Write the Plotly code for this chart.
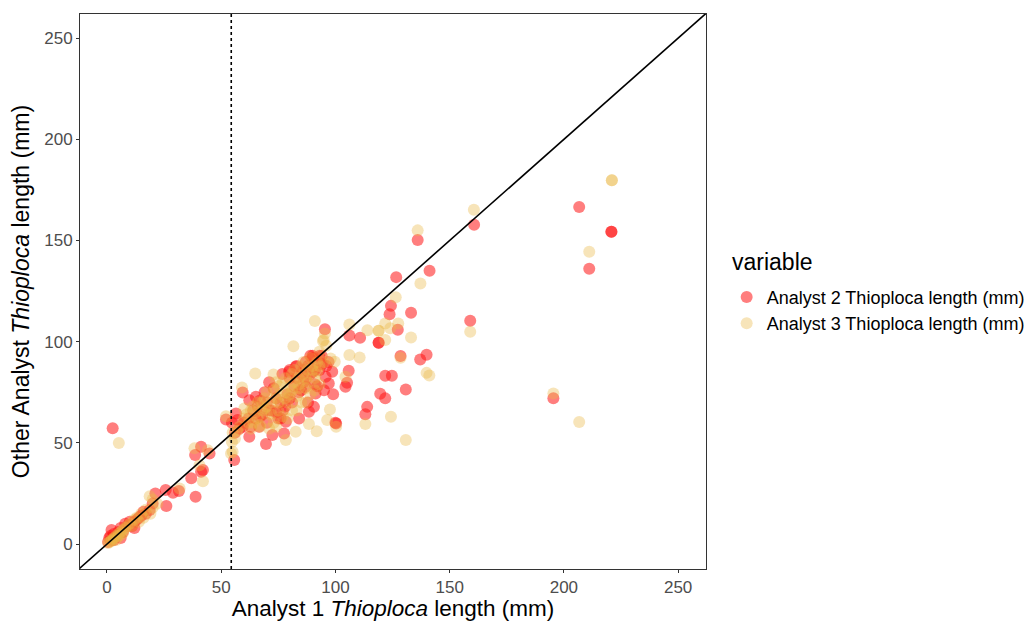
import plotly.graph_objects as go

# Analyst 2 (red) vs Analyst 1
a2_x = [220.8, 220.8, 206.7, 211.1, 160.7, 159.0, 195.4,
        136.0, 126.6, 141.2, 124.3, 123.7, 133.1, 127.3, 118.9, 118.9, 128.5, 137.1, 139.9,
        121.8, 124.7, 119.6, 121.8, 130.8, 113.9, 113.1, 100.3, 110.8, 106.1, 95.4, 105.8,
        105.1, 104.4, 2.5,
        82.6, 79.7, 76.8, 87.0, 91.3, 95.7, 97.1, 98.6, 90.6, 88.4, 84.1, 78.3, 77.5, 69.6,
        72.4, 65.2, 62.3, 59.4, 56.5, 55.7, 57.2, 59.4, 66.6, 62.3, 52.1, 54.7,
        70, 72, 74, 75, 68, 66, 80, 82, 85, 88, 90, 92, 94, 86, 84, 78, 76, 73, 71, 69,
        64, 62, 60, 58, 56, 67, 80, 89, 93, 91, 96, 95, 99, 100, 80, 83, 90, 89, 93, 87,
        63, 65, 67, 70, 74, 77, 79, 81, 83, 86, 87, 91, 94, 97, 71, 76, 85, 88, 90, 92,
        41.2, 38.6, 44.9, 41.2, 42.0, 36.9, 38.8, 21.2, 25.7, 31.5, 28.9, 26.0, 18.7, 17,
        15, 13, 10, 8, 6, 5, 3, 2, 1, 2, 4, 7, 9, 11, 12, 3, 0.5, 1.5, 20, 16, 14, 12, 6]
a2_y = [154.3, 154.3, 166.5, 136.0, 157.8, 110.3, 72.1,
        150.2, 131.9, 135.1, 117.7, 113.6, 114.3, 105.9, 99.5, 99.5, 92.9, 91.2, 93.5,
        83.2, 83.2, 74.3, 72.0, 76.4, 67.8, 64.1, 59.6, 101.9, 103.1, 106.2, 85.6,
        79.7, 77.7, 57.2,
        87.6, 85.1, 84.0, 77.7, 74.4, 82.7, 79.4, 85.1, 67.8, 65.4, 62.1, 60.4, 54.7, 49.4,
        53.9, 72.8, 71.1, 74.9, 64.5, 41.5, 61.3, 58.0, 58.0, 53.0, 61.6, 59.9,
        70, 66, 72, 62, 64, 68, 72, 78, 84, 88, 92, 90, 93, 80, 75, 68, 70, 77, 80, 75,
        66, 62, 60, 57, 55, 71, 82, 84, 86, 79, 88, 76, 74, 60, 86, 88, 93, 93, 93, 82,
        58, 62, 63, 60, 65, 66, 74, 70, 82, 86, 90, 86, 89, 90, 66, 62, 76, 70, 85, 78,
        48.1, 44.0, 44.8, 35.7, 36.6, 32.5, 23.4, 25.0, 26.7, 26.2, 25.4, 18.8, 16.8, 15,
        14, 12, 11, 10, 8, 6, 5, 7, 3, 2, 4, 6, 9, 9, 11, 2, 1, 4, 20, 16, 13, 8, 3]

# Analyst 3 (gold) vs Analyst 1
a3_x = [221.0, 221.0, 160.6, 211.1, 159.0, 195.4, 206.7, 136.0, 137.2, 126.4, 121.8, 127.5,
        124.0, 118.9, 118.9, 121.8, 133.1, 128.5, 139.9, 141.1, 124.3, 130.8, 113.1, 100.3,
        97.6, 96.4, 91.8, 88.4, 91.0, 95.4, 94.5, 106.1, 114.0, 106.1, 110.6, 104.4, 81.6,
        64.9, 72.9, 59.1, 60.1, 52.1, 54.7, 55.0, 78.3, 5.2, 82.6, 94.9, 97.9, 99.7, 54.3,
        62, 65, 68, 70, 72, 74, 76, 78, 80, 82, 84, 86, 88, 90, 92, 66, 70, 75, 79, 83, 87,
        91, 73, 77, 81, 85, 89, 93, 58, 60, 63, 67, 71, 69, 73, 77, 81, 85, 89, 93, 96, 57,
        55, 56, 64, 68, 75, 80, 84, 88, 92, 95,
        61, 63, 66, 69, 72, 75, 78, 81, 84, 87, 90, 93, 70, 74, 78, 82, 86, 64, 67, 74, 79,
        83, 87, 91,
        38.3, 44.1, 40.5, 42.0, 18.7, 31.8, 20, 17, 15, 13, 12, 10, 9, 8, 7, 6, 5, 4, 3, 2,
        1, 0.5, 2, 3, 5, 7, 4, 6, 11, 14, 16, 19, 20, 22]
a3_y = [179.8, 179.8, 165.2, 144.4, 104.9, 74.4, 60.3, 155.0, 128.8, 122.0, 109.0, 109.0,
        106.6, 105.4, 105.4, 100.8, 102.1, 92.1, 84.6, 83.3, 62.9, 51.4, 59.3, 58.0,
        66.5, 61.3, 55.8, 59.3, 110.2, 104.1, 100.3, 108.5, 105.7, 93.4, 92.2, 82.7, 97.8,
        84.3, 83.8, 77.4, 67.0, 63.2, 50.5, 45.6, 51.4, 49.9, 55.5, 100.8, 91.7, 90.1, 44.8,
        60, 65, 66, 68, 70, 72, 74, 75, 78, 80, 82, 84, 86, 88, 90, 62, 64, 66, 70, 73, 77,
        82, 60, 63, 66, 70, 74, 79, 58, 62, 57, 59, 57, 72, 76, 80, 84, 88, 92, 95, 98, 56,
        55, 52, 68, 70, 78, 74, 77, 80, 85, 90,
        64, 66, 70, 67, 64, 70, 72, 76, 79, 82, 86, 88, 75, 80, 82, 86, 90, 60, 58, 58, 62,
        66, 70, 76,
        47.3, 46.4, 39.0, 31.1, 23.7, 27.5, 18, 17, 15, 13, 12, 10, 9, 8, 7, 6, 5, 4, 3, 2,
        1, 0.5, 1.5, 2.5, 4, 5.5, 2, 4.5, 9, 11, 13, 15, 22, 20]

x_ticks = [0, 50, 100, 150, 200, 250]
y_ticks = [0, 50, 100, 150, 200, 250]
median_line = 54.4
x_range = [-11.8, 262.2]
y_range = [-12.3, 261.9]

FONT = "Liberation Sans, Arial, sans-serif"

fig = go.Figure()

fig.add_trace(go.Scatter(
    x=a2_x, y=a2_y, mode="markers", name="Analyst 2 Thioploca length (mm)",
    marker=dict(size=12, color="rgba(255,20,20,0.55)", line=dict(width=0))))
fig.add_trace(go.Scatter(
    x=a3_x, y=a3_y, mode="markers", name="Analyst 3 Thioploca length (mm)",
    marker=dict(size=12, color="rgba(234,184,70,0.38)", line=dict(width=0))))

fig.add_trace(go.Scatter(
    x=[-30, 300], y=[-30, 300], mode="lines", showlegend=False, hoverinfo="skip",
    line=dict(color="black", width=1.6)))

fig.add_shape(type="line", xref="x", yref="paper", x0=median_line, x1=median_line,
              y0=0, y1=1, line=dict(color="black", width=1.6, dash="dot"))

fig.add_annotation(text="variable", xref="paper", yref="paper", x=1.038, y=0.553,
                   xanchor="left", yanchor="middle", showarrow=False,
                   font=dict(family=FONT, size=23, color="black"))

axis_common = dict(
    showgrid=False, zeroline=False, showline=True, linecolor="#333333", linewidth=1,
    mirror=True, ticks="outside", ticklen=3, tickcolor="#333333", tickwidth=1,
    automargin=False,
    tickfont=dict(family=FONT, size=17, color="#4D4D4D"),
)

fig.update_layout(
    width=1028, height=613,
    margin=dict(l=72, r=325, t=6, b=52),
    plot_bgcolor="white", paper_bgcolor="white",
    font=dict(family=FONT, color="black"),
    xaxis=dict(range=x_range, tickvals=x_ticks, **axis_common,
               title=dict(text="Analyst 1 <i>Thioploca</i> length (mm)",
                          font=dict(size=22.5, color="black"), standoff=6)),
    yaxis=dict(range=y_range, tickvals=y_ticks, **axis_common,
               title=dict(text="Other Analyst <i>Thioploca</i> length (mm)",
                          font=dict(size=23, color="black"), standoff=8)),
    legend=dict(
        font=dict(size=18, color="black"),
        x=1.033, y=0.523, xanchor="left", yanchor="top",
        traceorder="normal", itemsizing="constant",
        bgcolor="rgba(0,0,0,0)",
    ),
)

fig.write_html("out.html")
